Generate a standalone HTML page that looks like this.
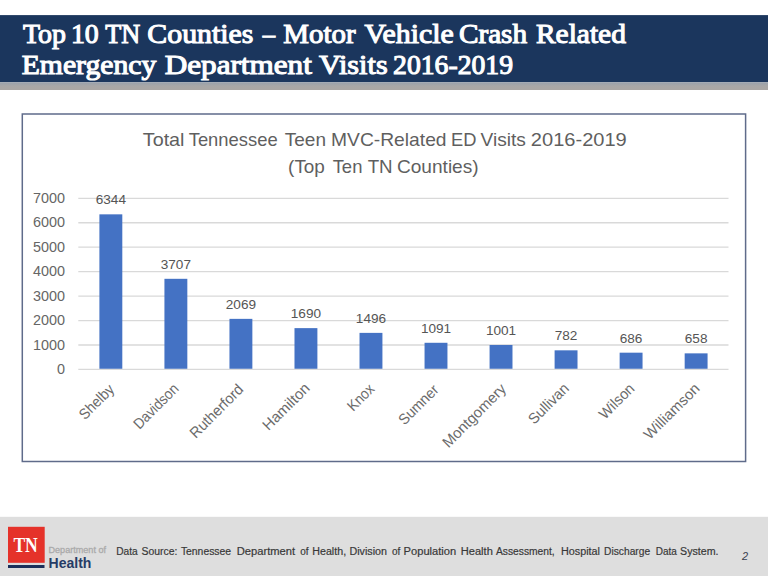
<!DOCTYPE html>
<html><head><meta charset="utf-8">
<style>
html,body{margin:0;padding:0;background:#fff;width:768px;height:576px;overflow:hidden}
svg{display:block}
</style></head>
<body>
<svg width="768" height="576" viewBox="0 0 768 576">
<defs><linearGradient id="sh" x1="0" y1="0" x2="0" y2="1"><stop offset="0" stop-color="#98a0ab"/><stop offset="0.5" stop-color="#a8a7a7"/><stop offset="1" stop-color="#aaa7a5"/></linearGradient></defs>
<rect x="0" y="15.1" width="768" height="67.1" fill="#1b365d"/>
<rect x="0" y="82.2" width="768" height="7.8" fill="url(#sh)"/>
<g font-family="'Liberation Serif', serif" font-size="27" fill="#fff" stroke="#fff" stroke-width="1.05">
<text x="23.05" y="42.9" textLength="42.95" lengthAdjust="spacingAndGlyphs">Top</text>
<text x="70.95" y="42.9" textLength="27.85" lengthAdjust="spacingAndGlyphs">10</text>
<text x="105.20" y="42.9" textLength="34.95" lengthAdjust="spacingAndGlyphs">TN</text>
<text x="147.35" y="42.9" textLength="106.10" lengthAdjust="spacingAndGlyphs">Counties</text>
<text x="262.65" y="42.9" textLength="12.35" lengthAdjust="spacingAndGlyphs">–</text>
<text x="283.35" y="42.9" textLength="72.15" lengthAdjust="spacingAndGlyphs">Motor</text>
<text x="364.40" y="42.9" textLength="89.45" lengthAdjust="spacingAndGlyphs">Vehicle</text>
<text x="458.90" y="42.9" textLength="68.25" lengthAdjust="spacingAndGlyphs">Crash</text>
<text x="535.95" y="42.9" textLength="89.95" lengthAdjust="spacingAndGlyphs">Related</text>
<text x="21.70" y="73.5" textLength="134.70" lengthAdjust="spacingAndGlyphs">Emergency</text>
<text x="164.70" y="73.5" textLength="147.20" lengthAdjust="spacingAndGlyphs">Department</text>
<text x="319.00" y="73.5" textLength="68.65" lengthAdjust="spacingAndGlyphs">Visits</text>
<text x="393.10" y="73.5" textLength="119.95" lengthAdjust="spacingAndGlyphs">2016-2019</text>
</g>
<rect x="22.3" y="114.0" width="723.3" height="347.5" fill="#fff" stroke="#5f6b8a" stroke-width="1.5"/>
<g font-family="'Liberation Sans', sans-serif" font-size="19" fill="#5f5f5f">
<text x="142.76" y="146.4" textLength="41.76" lengthAdjust="spacingAndGlyphs">Total</text>
<text x="188.70" y="146.4" textLength="88.97" lengthAdjust="spacingAndGlyphs">Tennessee</text>
<text x="284.76" y="146.4" textLength="41.22" lengthAdjust="spacingAndGlyphs">Teen</text>
<text x="331.03" y="146.4" textLength="115.55" lengthAdjust="spacingAndGlyphs">MVC-Related</text>
<text x="451.09" y="146.4" textLength="25.49" lengthAdjust="spacingAndGlyphs">ED</text>
<text x="480.52" y="146.4" textLength="45.42" lengthAdjust="spacingAndGlyphs">Visits</text>
<text x="530.85" y="146.4" textLength="95.94" lengthAdjust="spacingAndGlyphs">2016-2019</text>
<text x="288.09" y="172.5" textLength="36.82" lengthAdjust="spacingAndGlyphs">(Top</text>
<text x="332.64" y="172.5" textLength="29.79" lengthAdjust="spacingAndGlyphs">Ten</text>
<text x="367.67" y="172.5" textLength="25.00" lengthAdjust="spacingAndGlyphs">TN</text>
<text x="396.97" y="172.5" textLength="81.67" lengthAdjust="spacingAndGlyphs">Counties)</text>
</g>
<g stroke="#d9d9d9" stroke-width="1.3">
<line x1="78.3" x2="728.5" y1="369.45" y2="369.45"/>
<line x1="78.3" x2="728.5" y1="345.00" y2="345.00"/>
<line x1="78.3" x2="728.5" y1="320.55" y2="320.55"/>
<line x1="78.3" x2="728.5" y1="296.10" y2="296.10"/>
<line x1="78.3" x2="728.5" y1="271.65" y2="271.65"/>
<line x1="78.3" x2="728.5" y1="247.20" y2="247.20"/>
<line x1="78.3" x2="728.5" y1="222.75" y2="222.75"/>
<line x1="78.3" x2="728.5" y1="198.30" y2="198.30"/>
</g>
<g font-family="'Liberation Sans', sans-serif" font-size="14.4" fill="#666" text-anchor="end">
<text x="64.9" y="374.15">0</text>
<text x="64.9" y="349.70">1000</text>
<text x="64.9" y="325.25">2000</text>
<text x="64.9" y="300.80">3000</text>
<text x="64.9" y="276.35">4000</text>
<text x="64.9" y="251.90">5000</text>
<text x="64.9" y="227.45">6000</text>
<text x="64.9" y="203.00">7000</text>
</g>
<g fill="#4472c4">
<rect x="99.40" y="214.34" width="22.9" height="154.41"/>
<rect x="164.43" y="278.81" width="22.9" height="89.94"/>
<rect x="229.46" y="318.86" width="22.9" height="49.89"/>
<rect x="294.49" y="328.13" width="22.9" height="40.62"/>
<rect x="359.52" y="332.87" width="22.9" height="35.88"/>
<rect x="424.55" y="342.78" width="22.9" height="25.97"/>
<rect x="489.58" y="344.98" width="22.9" height="23.77"/>
<rect x="554.61" y="350.33" width="22.9" height="18.42"/>
<rect x="619.64" y="352.68" width="22.9" height="16.07"/>
<rect x="684.67" y="353.36" width="22.9" height="15.39"/>
</g>
<g font-family="'Liberation Sans', sans-serif" font-size="13.6" fill="#555" text-anchor="middle">
<text x="110.85" y="204.24">6344</text>
<text x="175.88" y="268.71">3707</text>
<text x="240.91" y="308.76">2069</text>
<text x="305.94" y="318.03">1690</text>
<text x="370.97" y="322.77">1496</text>
<text x="436.00" y="332.68">1091</text>
<text x="501.03" y="334.88">1001</text>
<text x="566.06" y="340.23">782</text>
<text x="631.09" y="342.58">686</text>
<text x="696.12" y="343.26">658</text>
</g>
<g font-family="'Liberation Sans', sans-serif" font-size="15" fill="#6b6b6b" text-anchor="end">
<text transform="translate(115.05,390.30) rotate(-45)" textLength="42.59" lengthAdjust="spacingAndGlyphs">Shelby</text>
<text transform="translate(179.60,389.66) rotate(-45)" textLength="56.89" lengthAdjust="spacingAndGlyphs">Davidson</text>
<text transform="translate(244.31,390.30) rotate(-45)" textLength="68.73" lengthAdjust="spacingAndGlyphs">Rutherford</text>
<text transform="translate(310.78,389.18) rotate(-45)" textLength="59.64" lengthAdjust="spacingAndGlyphs">Hamilton</text>
<text transform="translate(375.33,389.98) rotate(-45)" textLength="31.26" lengthAdjust="spacingAndGlyphs">Knox</text>
<text transform="translate(439.56,390.78) rotate(-45)" textLength="49.48" lengthAdjust="spacingAndGlyphs">Sumner</text>
<text transform="translate(507.15,389.82) rotate(-45)" textLength="83.04" lengthAdjust="spacingAndGlyphs">Montgomery</text>
<text transform="translate(569.94,389.34) rotate(-45)" textLength="50.49" lengthAdjust="spacingAndGlyphs">Sullivan</text>
<text transform="translate(635.45,389.50) rotate(-45)" textLength="43.09" lengthAdjust="spacingAndGlyphs">Wilson</text>
<text transform="translate(700.64,389.50) rotate(-45)" textLength="71.84" lengthAdjust="spacingAndGlyphs">Williamson</text>
</g>
<rect x="0" y="516.8" width="768" height="59.2" fill="#dedede"/>
<rect x="8" y="526.8" width="36.7" height="36" fill="#e5322a"/>
<rect x="8" y="565" width="36.5" height="3" fill="#1c2f5a"/>
<text x="13.4" y="552.4" font-family="'Liberation Serif', serif" font-weight="bold" font-size="20.5" fill="#fff" textLength="24.4" lengthAdjust="spacingAndGlyphs">TN</text>
<text x="48.5" y="553.3" font-family="'Liberation Sans', sans-serif" font-size="9.6" fill="#aaaaaa" stroke="#aaaaaa" stroke-width="0.3" textLength="57.5" lengthAdjust="spacingAndGlyphs">Department of</text>
<text x="48.6" y="567.9" font-family="'Liberation Sans', sans-serif" font-weight="bold" font-size="15.4" fill="#263c66" textLength="42.8" lengthAdjust="spacingAndGlyphs">Health</text>
<g font-family="'Liberation Sans', sans-serif" font-size="10" fill="#383838" stroke="#383838" stroke-width="0.18" transform="translate(0,555.1)">
<text y="0" x="116.2" textLength="21.5" lengthAdjust="spacingAndGlyphs">Data</text>
<text y="0" x="141.5" textLength="35.9" lengthAdjust="spacingAndGlyphs">Source:</text>
<text y="0" x="180.9" textLength="50.2" lengthAdjust="spacingAndGlyphs">Tennessee</text>
<text y="0" x="236.7" textLength="58.4" lengthAdjust="spacingAndGlyphs">Department</text>
<text y="0" x="300.2">of</text>
<text y="0" x="312.3" textLength="33.8" lengthAdjust="spacingAndGlyphs">Health,</text>
<text y="0" x="349.5" textLength="37.5" lengthAdjust="spacingAndGlyphs">Division</text>
<text y="0" x="392">of</text>
<text y="0" x="403.6" textLength="52.6" lengthAdjust="spacingAndGlyphs">Population</text>
<text y="0" x="460.8" textLength="32.0" lengthAdjust="spacingAndGlyphs">Health</text>
<text y="0" x="496.0" textLength="58.7" lengthAdjust="spacingAndGlyphs">Assessment,</text>
<text y="0" x="561.0" textLength="39.0" lengthAdjust="spacingAndGlyphs">Hospital</text>
<text y="0" x="604.1" textLength="46.0" lengthAdjust="spacingAndGlyphs">Discharge</text>
<text y="0" x="655.7">Data</text>
<text y="0" x="680.1" textLength="38.4" lengthAdjust="spacingAndGlyphs">System.</text>
</g>
<text x="742" y="560" font-family="'Liberation Sans', sans-serif" font-style="italic" font-size="11" fill="#3a4050">2</text>
</svg>
</body></html>
